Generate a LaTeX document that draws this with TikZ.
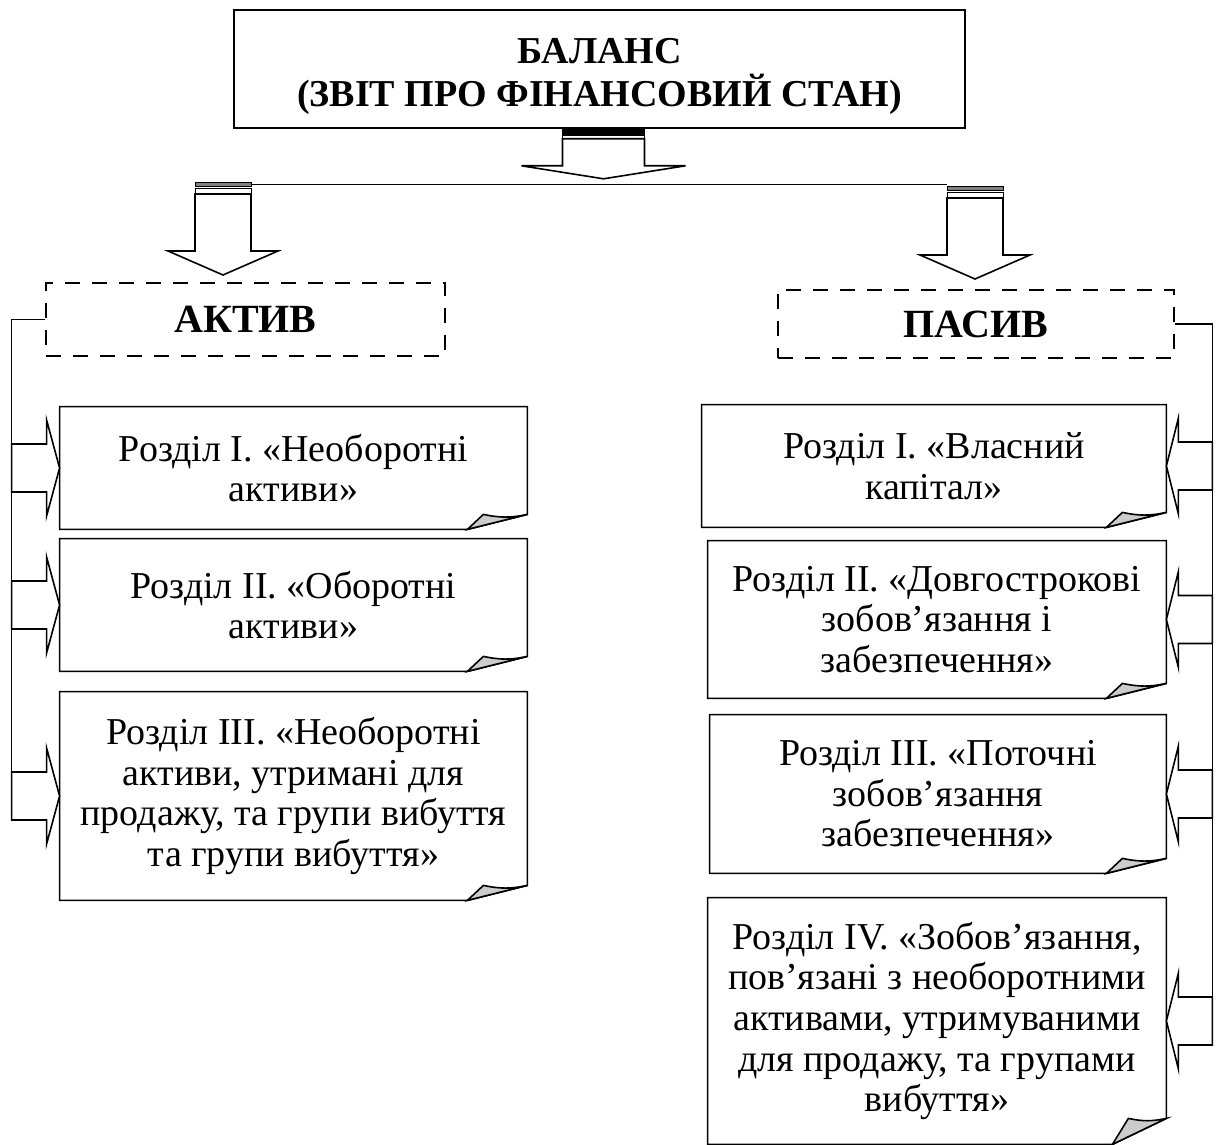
\documentclass[tikz,border=0pt]{standalone}
\usepackage{fontspec}
\setmainfont{Liberation Serif}[BoldFont={Liberation Serif Bold}]
\newcommand{\sheet}[3]{%
  \draw[thick] (#1.north west) -- (#1.north east) -- ([yshift=#3]#1.south east)
    -- ([xshift=-#2]#1.south east) -- (#1.south west) -- cycle;
  \draw[thick,fill=black!20] ([xshift=-#2]#1.south east) -- ([xshift=-#2+8pt,yshift=#3]#1.south east)
    to[bend right=12] ([yshift=#3]#1.south east) -- cycle;}
\begin{document}
\begin{tikzpicture}[x=0.5pt,y=-0.5pt]
\tikzstyle{txt}= [align=center,inner sep=0pt,font=\fontsize{19}{20.3}\selectfont]
\tikzstyle{title}= [draw,line width=0.8pt,align=center,inner sep=0pt,
	font=\bfseries\fontsize{19}{21.5}\selectfont,minimum width=365.5pt,minimum height=59pt]
\tikzstyle{dsh}= [draw,line width=1.4pt,dash pattern=on 7.5pt off 6pt,inner sep=0pt,
	font=\bfseries\fontsize{20}{21.5}\selectfont]
\tikzstyle{blk}= [draw,line width=0.8pt,fill=white,line join=miter]
\useasboundingbox (0,0) rectangle (1223,1145);

\path
	(599.5,69) node[title] (bal) {\rule{0pt}{20pt}БАЛАНС\\(ЗВІТ ПРО ФІНАНСОВИЙ СТАН)}
	(245.5,319.5) node[dsh,minimum width=199.5pt,minimum height=36.5pt] (akt) {АКТИВ}
	(976,324) node[dsh,minimum width=198pt,minimum height=34pt] (pas) {ПАСИВ}
	(293.5,468) node[txt,minimum width=233.5pt,minimum height=61pt] (l1)
		{Розділ І. «Необоротні\\активи»}
	(293.5,605) node[txt,minimum width=233.5pt,minimum height=66pt] (l2)
		{Розділ ІІ. «Оборотні\\активи»}
	(293.5,796) node[txt,minimum width=233.5pt,minimum height=104pt] (l3)
		{Розділ ІІІ. «Необоротні\\активи, утримані для\\продажу, та групи вибуття\\та групи вибуття»}
	(934,466) node[txt,minimum width=232pt,minimum height=61pt] (r1)
		{Розділ І. «Власний\\капітал»}
	(937,619.5) node[txt,minimum width=229pt,minimum height=78.5pt] (r2)
		{Розділ ІІ. «Довгострокові\\зобов’язання і\\забезпечення»}
	(938,794) node[txt,minimum width=228pt,minimum height=79pt] (r3)
		{Розділ ІІІ. «Поточні\\зобов’язання\\забезпечення»}
	(937,1021) node[txt,minimum width=229pt,minimum height=123pt] (r4)
		{Розділ ІV. «Зобов’язання,\\пов’язані з необоротними\\активами, утримуваними\\для продажу, та групами\\вибуття»}
;
\foreach \n in {l1,l2,l3,r1,r2,r3} \sheet{\n}{30pt}{7.5pt};
\sheet{r4}{27pt}{13pt}

\coordinate (ta) at ([xshift=2pt]bal.south);
\coordinate (la) at (223,182);
\coordinate (ra) at (975,186);

\draw[fill=black] ([shift={(-41,0)}]ta) rectangle ([shift={(41,6)}]ta);
\draw[fill=white] ([shift={(-41,7)}]ta) rectangle ([shift={(41,10)}]ta);
\draw[blk] ([shift={(-41,10)}]ta) -- ++(0,27) -- ++(-41,0) -- ([shift={(0,50)}]ta)
	-- ([shift={(82,37)}]ta) -- ++(-41,0) -- ++(0,-27) -- cycle;

\draw[line width=0.5pt] ([shift={(28,3)}]la) -- ([shift={(-28,-1)}]ra);
\foreach \p in {la,ra}{
	\draw[fill=gray] ([shift={(-28,0)}]\p) rectangle ([shift={(28,4)}]\p);
	\draw[fill=white] ([shift={(-28,6)}]\p) rectangle ([shift={(28,12)}]\p);
	\draw[blk] ([shift={(-28,12)}]\p) -- ++(0,57) -- ++(-27,0) -- ([shift={(0,93)}]\p)
		-- ([shift={(55,69)}]\p) -- ++(-27,0) -- ++(0,-57) -- cycle;
}

\draw[line width=0.6pt] (akt.west) -| ([shift={(-48,24)}]l3.west);
\draw[line width=0.6pt] (pas.east) -| ([shift={(46,24)}]r4.east);
\foreach \n in {l1,l2,l3}
	\draw[blk] (\n.west) -- ++(-13,-48) -- ++(0,24) -- ++(-35,0) -- ++(0,48)
		-- ++(35,0) -- ++(0,24) -- cycle;
\foreach \n in {r1,r2,r3,r4}
	\draw[blk] (\n.east) -- ++(12,-48) -- ++(0,24) -- ++(34,0) -- ++(0,48)
		-- ++(-34,0) -- ++(0,24) -- cycle;
\end{tikzpicture}
\end{document}
